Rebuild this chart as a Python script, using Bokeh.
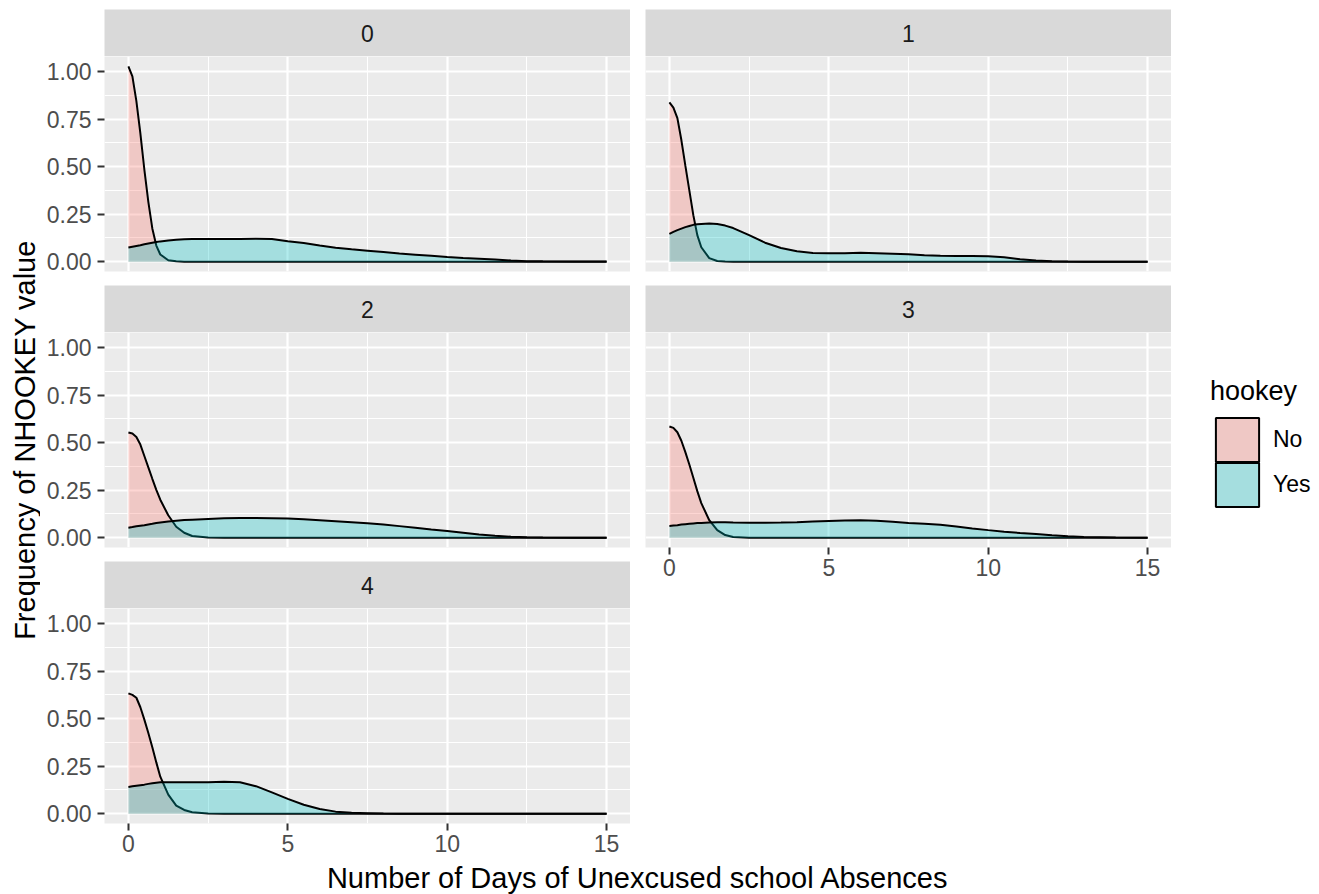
import math
from bokeh.plotting import figure
from bokeh.models import (Range1d, FixedTicker, Grid, LinearAxis, NumeralTickFormatter,
                          Legend, LegendItem, ColumnDataSource)
from bokeh.layouts import column, row
from bokeh.embed import file_html
from bokeh.resources import INLINE
from bokeh.core.properties import value

FONT = "Liberation Sans"

# ---------------- data ----------------
xs = [0, 0.125, 0.25, 0.375, 0.5, 0.625, 0.75, 0.875, 1, 1.25, 1.5, 1.75, 2,
      2.5, 3, 3.5, 4, 4.5, 5, 5.5, 6, 6.5, 7, 7.5, 8, 8.5, 9, 9.5, 10, 10.5,
      11, 11.5, 12, 12.5, 13, 14, 15]

no_0 = [1.028, 0.975, 0.845, 0.675, 0.485, 0.315, 0.175, 0.085, 0.038, 0.008, 0.002, 0, 0,
        0, 0, 0, 0, 0, 0, 0, 0, 0, 0, 0, 0, 0, 0, 0, 0, 0, 0, 0, 0, 0, 0, 0, 0]
yes_0 = [0.075, 0.079, 0.083, 0.087, 0.092, 0.096, 0.100, 0.104, 0.107, 0.112, 0.116, 0.118, 0.119,
         0.119, 0.119, 0.120, 0.121, 0.120, 0.108, 0.098, 0.085, 0.073, 0.065, 0.058, 0.051, 0.043,
         0.037, 0.031, 0.025, 0.020, 0.016, 0.012, 0.006, 0.003, 0.002, 0.001, 0.001]

no_1 = [0.838, 0.810, 0.755, 0.640, 0.505, 0.375, 0.245, 0.140, 0.076, 0.019, 0.004, 0.001, 0,
        0, 0, 0, 0, 0, 0, 0, 0, 0, 0, 0, 0, 0, 0, 0, 0, 0, 0, 0, 0, 0, 0, 0, 0]
yes_1 = [0.147, 0.157, 0.166, 0.174, 0.182, 0.188, 0.194, 0.197, 0.199, 0.201, 0.198, 0.190, 0.177,
         0.140, 0.100, 0.072, 0.055, 0.046, 0.044, 0.044, 0.047, 0.045, 0.042, 0.039, 0.034, 0.031,
         0.030, 0.030, 0.029, 0.023, 0.013, 0.007, 0.003, 0.001, 0, 0, 0]

no_2 = [0.553, 0.548, 0.530, 0.490, 0.430, 0.370, 0.310, 0.252, 0.200, 0.118, 0.058, 0.026, 0.009,
        0.001, 0, 0, 0, 0, 0, 0, 0, 0, 0, 0, 0, 0, 0, 0, 0, 0, 0, 0, 0, 0, 0, 0, 0]
yes_2 = [0.053, 0.056, 0.060, 0.063, 0.066, 0.070, 0.073, 0.077, 0.080, 0.085, 0.089, 0.093, 0.095,
         0.099, 0.102, 0.104, 0.104, 0.103, 0.101, 0.097, 0.092, 0.087, 0.082, 0.076, 0.069, 0.061,
         0.052, 0.043, 0.035, 0.026, 0.017, 0.010, 0.005, 0.002, 0.001, 0, 0]

no_3 = [0.585, 0.578, 0.555, 0.510, 0.450, 0.385, 0.315, 0.245, 0.182, 0.092, 0.040, 0.014, 0.004,
        0, 0, 0, 0, 0, 0, 0, 0, 0, 0, 0, 0, 0, 0, 0, 0, 0, 0, 0, 0, 0, 0, 0, 0]
yes_3 = [0.062, 0.064, 0.066, 0.069, 0.071, 0.073, 0.075, 0.077, 0.078, 0.080, 0.081, 0.081, 0.080,
         0.079, 0.079, 0.080, 0.082, 0.085, 0.088, 0.091, 0.092, 0.089, 0.084, 0.078, 0.073, 0.068,
         0.059, 0.049, 0.040, 0.032, 0.025, 0.019, 0.013, 0.008, 0.004, 0.001, 0]

no_4 = [0.633, 0.625, 0.610, 0.560, 0.495, 0.425, 0.350, 0.270, 0.195, 0.100, 0.043, 0.020, 0.008,
        0.001, 0, 0, 0, 0, 0, 0, 0, 0, 0, 0, 0, 0, 0, 0, 0, 0, 0, 0, 0, 0, 0, 0, 0]
yes_4 = [0.141, 0.144, 0.147, 0.150, 0.153, 0.157, 0.160, 0.163, 0.165, 0.166, 0.166, 0.165, 0.165,
         0.165, 0.168, 0.166, 0.145, 0.112, 0.078, 0.047, 0.025, 0.011, 0.005, 0.003, 0.001, 0,
         0, 0, 0, 0, 0, 0, 0, 0, 0, 0, 0]

panel_labels = ["0", "1", "2", "3", "4"]
groups = ["No", "Yes"]
group_colors = ["#F8766D", "#00BFC4"]
key_colors = ["#EFC8C5", "#A5DEDF"]
x_ticks = [0, 5, 10, 15]
x_minor = [2.5, 7.5, 12.5]
y_ticks = [0, 0.25, 0.5, 0.75, 1.0]
y_minor = [0.125, 0.375, 0.625, 0.875]
x_title = "Number of Days of Unexcused school Absences"
y_title = "Frequency of NHOOKEY value"
legend_title = "hookey"

series = {"0": (no_0, yes_0), "1": (no_1, yes_1), "2": (no_2, yes_2),
          "3": (no_3, yes_3), "4": (no_4, yes_4)}

# ---------------- scales ----------------
xmin, xmax = min(xs), max(xs)
xpad = 0.05 * (xmax - xmin)
ymax = max(max(v) for pair in series.values() for v in pair)
ypad = 0.05 * ymax
XR = Range1d(xmin - xpad, xmax + xpad)
YR = Range1d(-ypad, ymax + ypad)

FW, FH, SH = 526, 215, 47
YTW = 40            # width of y-title column
LB1 = 104 - YTW     # left border of column-1 figures
LB2 = 15            # gap between the two columns
RW = 148            # width of legend column
GAP = 14
TOP = 9
XAXB = 38           # room for the x axis under the bottom panels
XTH = 33            # height of the x-title strip


def base_fig(fw, fh, xr, yr, lb, rb, tb, bb, bg):
    f = figure(frame_width=fw, frame_height=fh, x_range=xr, y_range=yr,
               output_backend="svg", toolbar_location=None,
               x_axis_location=None, y_axis_location=None,
               min_border_left=lb, min_border_right=rb, min_border_top=tb,
               min_border_bottom=bb, background_fill_color=bg,
               border_fill_color="white", outline_line_color=None)
    f.center = []
    return f


def style_axis(ax, standoff):
    ax.axis_line_color = None
    ax.major_tick_line_color = "#333333"
    ax.major_tick_line_width = 2
    ax.major_tick_in = 0
    ax.major_tick_out = 7
    ax.minor_tick_line_color = None
    ax.major_label_text_font = FONT
    ax.major_label_text_font_size = "23px"
    ax.major_label_text_color = "#4D4D4D"
    ax.major_label_standoff = standoff


def make_strip(label, lb, tb):
    s = base_fig(FW, SH, XR, Range1d(0, 1), lb, 0, tb, 0, "#D9D9D9")
    s.text(x=[(XR.start + XR.end) / 2], y=[0.5], text=[label], text_align="center",
           text_baseline="middle", text_font=value(FONT), text_font_size="23px",
           text_color="#1A1A1A")
    return s


def make_panel(key, lb, left_axis=False, bottom_axis=False):
    p = base_fig(FW, FH, XR, YR, lb, 0, 0, XAXB if bottom_axis else GAP, "#EBEBEB")
    p.add_layout(Grid(dimension=0, ticker=FixedTicker(ticks=x_ticks, minor_ticks=x_minor),
                      grid_line_color="white", grid_line_width=2.2,
                      minor_grid_line_color="white", minor_grid_line_width=1.1), "center")
    p.add_layout(Grid(dimension=1, ticker=FixedTicker(ticks=y_ticks, minor_ticks=y_minor),
                      grid_line_color="white", grid_line_width=2.2,
                      minor_grid_line_color="white", minor_grid_line_width=1.1), "center")
    if left_axis:
        ax = LinearAxis(ticker=FixedTicker(ticks=y_ticks),
                        formatter=NumeralTickFormatter(format="0.00"))
        style_axis(ax, 6)
        p.add_layout(ax, "left")
    if bottom_axis:
        ax = LinearAxis(ticker=FixedTicker(ticks=x_ticks),
                        formatter=NumeralTickFormatter(format="0"))
        style_axis(ax, 4)
        p.add_layout(ax, "below")
    no, yes = series[key]
    src = ColumnDataSource(dict(x=xs, no=no, yes=yes))
    for col, color in zip(["no", "yes"], group_colors):
        p.varea(x="x", y1=0, y2=col, source=src, fill_color=color, fill_alpha=0.3)
        p.line(x="x", y=col, source=src, line_color="black", line_width=2)
    return p


S0 = make_strip(panel_labels[0], LB1, TOP)
S1 = make_strip(panel_labels[1], LB2, TOP)
S2 = make_strip(panel_labels[2], LB1, 0)
S3 = make_strip(panel_labels[3], LB2, 0)
S4 = make_strip(panel_labels[4], LB1, 0)

P0 = make_panel("0", LB1, left_axis=True)
P1 = make_panel("1", LB2)
P2 = make_panel("2", LB1, left_axis=True)
P3 = make_panel("3", LB2, bottom_axis=True)
P4 = make_panel("4", LB1, left_axis=True, bottom_axis=True)

# y title column: spans the panel area from first panel top to last panel bottom
yt_h = 2 * (FH + GAP + SH) + FH
YT = base_fig(YTW, yt_h, Range1d(0, 1), Range1d(0, 1), 0, 0, TOP + SH, 0, "white")
YT.text(x=[0.6], y=[0.5], text=[y_title], angle=math.pi / 2, text_align="center",
        text_baseline="middle", text_font=value(FONT), text_font_size="29px",
        text_color="black")

# legend column: two one-item legends so that the keys touch, as in ggplot
LG_LEFT, LG_TOP, LG_H = 39, 376, 136
LG = base_fig(RW - LG_LEFT, LG_H, Range1d(0, 1), Range1d(0, 1), LG_LEFT, 0, LG_TOP, 0, "white")
nan = float("nan")
for i, (g, kc) in enumerate(zip(groups, key_colors)):
    r = LG.quad(left=[nan], right=[nan], top=[nan], bottom=[nan], fill_color=kc,
                line_color="black", line_width=2)
    lg = Legend(items=[LegendItem(label=g, renderers=[r])],
                location="top_left" if i == 0 else "bottom_left",
                padding=0, margin=0, spacing=0, glyph_width=54, glyph_height=55,
                label_height=55, label_standoff=9, label_text_font=FONT,
                label_text_font_size="23px", label_text_color="black",
                border_line_color=None, background_fill_alpha=0)
    if i == 0:
        lg.title = legend_title
        lg.title_text_font = FONT
        lg.title_text_font_size = "27px"
        lg.title_text_font_style = "normal"
        lg.title_text_color = "black"
        lg.title_standoff = 5
    LG.add_layout(lg, "center")

# x title row: centred over both panel columns
XT = base_fig(FW * 2 + LB2, XTH, Range1d(0, 1), Range1d(0, 1), 104, RW, 0, 0, "white")
XT.text(x=[0.5], y=[0.5], text=[x_title], text_align="center", text_baseline="middle",
        text_font=value(FONT), text_font_size="29px", text_color="black")

col1 = column(S0, P0, S2, P2, S4, P4)
col2 = column(S1, P1, S3, P3)
root = column(row(column(YT), col1, col2, column(LG)), XT)

open("out.html", "w").write(file_html(root, INLINE))
